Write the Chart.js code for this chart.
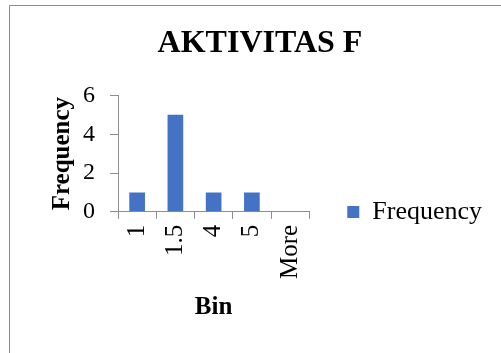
<!DOCTYPE html>
<html>
<head>
<meta charset="utf-8">
<script src="https://cdn.jsdelivr.net/npm/chart.js@4.4.0/dist/chart.umd.min.js"></script>
<style>
  html, body { margin: 0; padding: 0; background: #fff; }
</style>
</head>
<body>
<canvas id="histChart" width="501" height="353"></canvas>
<script>
// histogram data
const bins = ['1', '1.5', '4', '5', 'More'];
const frequency = [1, 5, 1, 1, 0];
const yTicks = [0, 2, 4, 6];

const serif = "'Liberation Serif', 'Times New Roman', serif";
const axisGrey = '#8e8e8e';

// outer chart frame (only top and left edges are visible)
const framePlugin = {
    id: 'frame',
    beforeDraw(chart) {
        const c = chart.ctx;
        c.save();
        c.fillStyle = '#fff';
        c.fillRect(0, 0, chart.width, chart.height);
        c.strokeStyle = '#8c8c8c';
        c.lineWidth = 1;
        c.beginPath();
        c.moveTo(9.5, chart.height);
        c.lineTo(9.5, 5.5);
        c.lineTo(chart.width, 5.5);
        c.stroke();
        c.restore();
    }
};

// the layout caps side boxes at a quarter of the width, which clips the legend text
const wideLegend = {
    id: 'wideLegend',
    beforeLayout(chart) {
        const lg = chart.legend;
        if (lg && !lg._wide) {
            const fit = lg.fit;
            lg.fit = function () {
                this.maxWidth = Math.max(this.maxWidth, 260);
                fit.call(this);
            };
            lg._wide = true;
        }
    }
};

const ctx = document.getElementById('histChart').getContext('2d');
new Chart(ctx, {
    type: 'bar',
    data: {
        labels: bins,
        datasets: [{
            label: 'Frequency',
            data: frequency,
            backgroundColor: '#4472C4',
            borderWidth: 0,
            barPercentage: 0.41,
            categoryPercentage: 1.0
        }]
    },
    options: {
        responsive: false,
        animation: false,
        layout: {
            padding: { left: 28, right: 9, top: 10, bottom: 10 }
        },
        plugins: {
            title: {
                display: true,
                text: 'AKTIVITAS F',
                color: '#000',
                font: { family: serif, size: 32, weight: 'bold' },
                padding: { top: 15, bottom: 32 }
            },
            legend: {
                position: 'right',
                title: {
                    display: true,
                    text: ' ',
                    font: { size: 10 },
                    padding: { top: 0, bottom: 59 }
                },
                labels: {
                    color: '#000',
                    font: { family: serif, size: 26 },
                    boxWidth: 12,
                    boxHeight: 12,
                    padding: 38
                }
            },
            tooltip: { enabled: false }
        },
        scales: {
            x: {
                grid: {
                    display: true,
                    drawOnChartArea: false,
                    drawTicks: true,
                    tickLength: 7,
                    color: axisGrey
                },
                border: { color: axisGrey },
                ticks: {
                    color: '#000',
                    font: { family: serif, size: 25 },
                    minRotation: 90,
                    maxRotation: 90,
                    padding: 6
                },
                title: {
                    display: true,
                    text: 'Bin',
                    color: '#000',
                    font: { family: serif, size: 25, weight: 'bold' },
                    padding: { top: 8, bottom: 20 }
                }
            },
            y: {
                min: 0,
                max: 6,
                afterBuildTicks(axis) {
                    axis.ticks = yTicks.map(v => ({ value: v }));
                },
                grid: {
                    display: true,
                    drawOnChartArea: false,
                    drawTicks: true,
                    tickLength: 8,
                    color: axisGrey
                },
                border: { color: axisGrey },
                ticks: {
                    color: '#000',
                    font: { family: serif, size: 24 },
                    padding: 15
                },
                title: {
                    display: true,
                    text: 'Frequency',
                    color: '#000',
                    font: { family: serif, size: 25, weight: 'bold' },
                    padding: { top: 20, bottom: -10 }
                }
            }
        }
    },
    plugins: [framePlugin, wideLegend]
});
</script>
</body>
</html>
